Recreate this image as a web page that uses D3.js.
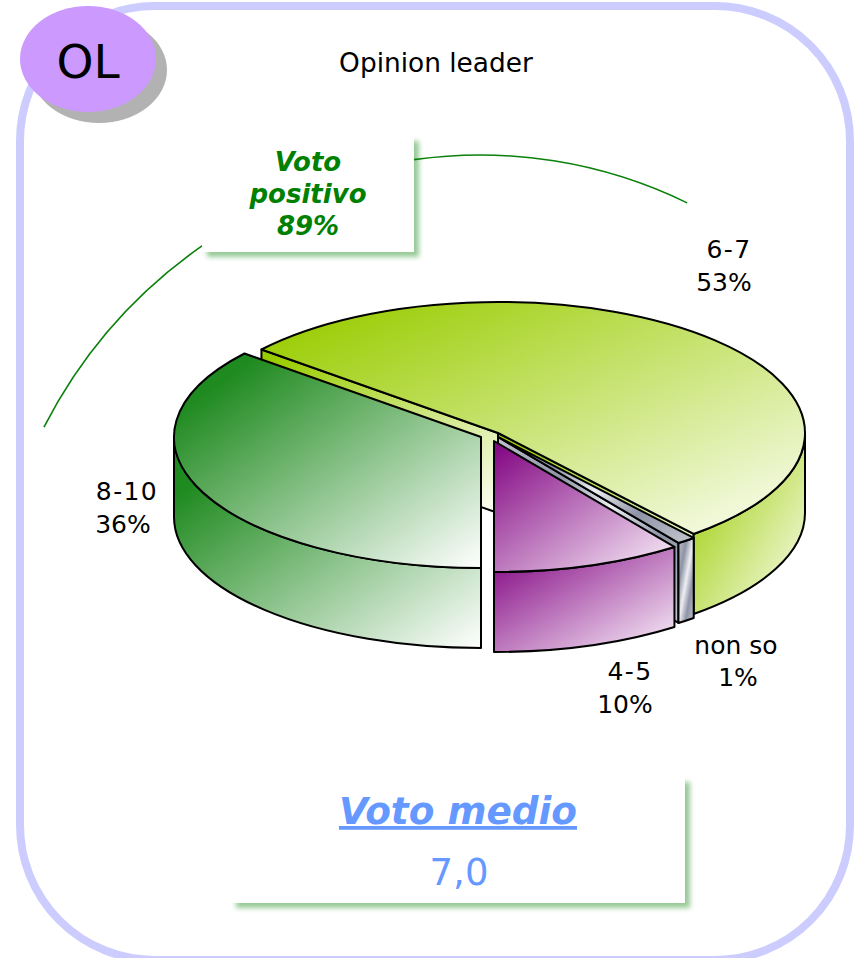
<!DOCTYPE html>
<html>
<head>
<meta charset="utf-8">
<script src="https://cdn.jsdelivr.net/npm/d3@7"></script>
<style>
html,body{margin:0;padding:0;background:#fff;}
svg{display:block;font-family:"DejaVu Sans",sans-serif;}
</style>
</head>
<body>
<div id="chart"></div>
<script>
// ---- data
const categories = ["6-7", "non so", "4-5", "8-10"];
const values = [53, 1, 10, 36];
const badge = "OL";
const title = "Opinion leader";
const positiveLines = ["Voto", "positivo", "89%"];
const meanTitle = "Voto medio";
const meanValue = "7,0";

// ---- layout
const W = 857, H = 958;
const svg = d3.select("#chart").append("svg").attr("width", W).attr("height", H);
const defs = svg.append("defs");
const RX = 307, RY = 131, DEPTH = 80;
const START = -50.4 * Math.PI / 180;
const centers = { "6-7": [498, 433], "non so": [498, 437], "4-5": [494, 441], "8-10": [481, 437] };
const labelLayout = {
  "6-7":    { x: [729, 724], y: [258, 291] },
  "non so": { x: [736, 738], y: [654, 686] },
  "4-5":    { x: [630, 625], y: [680, 713] },
  "8-10":   { x: [127, 123], y: [500, 533] }
};
const ramps = {
  "6-7":    [[0.06, "#99cc00"], [1, "#fdfef6"]],
  "8-10":   [[0.14, "#1f8a1f"], [1, "#ffffff"]],
  "4-5":    [[0, "#800080"], [1, "#fbf3fb"]],
  "non so": [[0, "#c0c3cc"], [.28, "#8e93a6"], [.5, "#eceef1"], [.72, "#8e93a6"], [1, "#c6c8d0"]]
};
function gradient(id, stops) {
  const g = defs.append("linearGradient").attr("id", id)
    .attr("x1", 0).attr("y1", 0).attr("x2", 1).attr("y2", 1);
  stops.forEach(s => g.append("stop").attr("offset", s[0]).attr("stop-color", s[1]));
}
categories.forEach((c, i) => gradient("g" + i, ramps[c]));
const blur = defs.append("filter").attr("id", "soft")
  .attr("x", "-10%").attr("y", "-10%").attr("width", "120%").attr("height", "120%");
blur.append("feGaussianBlur").attr("stdDeviation", 2.4);

// ---- frame
svg.append("rect").attr("x", 20).attr("y", 6).attr("width", 830).attr("height", 954)
  .attr("rx", 135).attr("ry", 135).attr("fill", "#fff").attr("stroke", "#ccccff").attr("stroke-width", 8);

// ---- badge
svg.append("ellipse").attr("cx", 99).attr("cy", 70).attr("rx", 68).attr("ry", 53).attr("fill", "#b2b2b2");
svg.append("ellipse").attr("cx", 88).attr("cy", 59).attr("rx", 68).attr("ry", 53).attr("fill", "#cc99ff");
svg.append("text").attr("x", 88).attr("y", 78).attr("text-anchor", "middle")
  .attr("font-size", 47).attr("fill", "#000").text(badge);
svg.append("text").attr("x", 436).attr("y", 72).attr("text-anchor", "middle")
  .attr("font-size", 26.4).attr("fill", "#000").text(title);

// ---- callout boxes
function box(x, y, w, h) {
  svg.append("rect").attr("x", x + 5).attr("y", y + 5).attr("width", w).attr("height", h)
    .attr("fill", "#97cb97").attr("filter", "url(#soft)");
  svg.append("rect").attr("x", x).attr("y", y).attr("width", w).attr("height", h).attr("fill", "#fff");
}
box(202, 136, 212, 116);
svg.append("g").selectAll("text").data(positiveLines).join("text")
  .attr("x", 308).attr("y", (d, i) => 171 + i * 32).attr("text-anchor", "middle")
  .attr("font-size", 26).attr("font-weight", "bold").attr("font-style", "italic")
  .attr("fill", "#008000").text(d => d);

box(231, 777, 454, 126);
svg.append("text").attr("x", 458).attr("y", 824).attr("text-anchor", "middle")
  .attr("font-size", 37.4).attr("font-weight", "bold").attr("font-style", "italic")
  .attr("text-decoration", "underline").attr("fill", "#6699ff").text(meanTitle);
svg.append("text").attr("x", 459).attr("y", 885).attr("text-anchor", "middle")
  .attr("font-size", 37).attr("fill", "#6699ff").text(meanValue);

// ---- bracket arcs round the positive slices
const bracket = d3.path();
bracket.arc(488.7, 655.5, 500, -2.667, -2.1815);
bracket.moveTo(480 + 472 * Math.cos(-1.711), 627 + 472 * Math.sin(-1.711));
bracket.arc(480, 627, 472, -1.711, -1.1165);
svg.append("path").attr("d", bracket.toString()).attr("fill", "none")
  .attr("stroke", "#0a800a").attr("stroke-width", 1.6);

// ---- pie
const pie = d3.pie().sort(null).value(d => d.value)
  .startAngle(START).endAngle(START + 2 * Math.PI);
const slices = pie(categories.map((c, i) => ({ cat: c, value: values[i], idx: i })));
const px = d3.scaleLinear().domain([-1, 1]).range([-RX, RX]);
const py = d3.scaleLinear().domain([-1, 1]).range([-RY, RY]);
function pt(c, a, dz) { return [c[0] + px(Math.sin(a)), c[1] - py(Math.cos(a)) + (dz || 0)]; }
function wedge(c, a0, a1) {
  const p0 = pt(c, a0), p1 = pt(c, a1);
  return `M${c}L${p0}A${RX},${RY} 0 ${a1 - a0 > Math.PI ? 1 : 0} 1 ${p1}Z`;
}
function radialWall(c, a) {
  const p = pt(c, a), q = pt(c, a, DEPTH);
  return `M${c}L${p}L${q}L${c[0]},${c[1] + DEPTH}Z`;
}
function outerWall(c, a0, a1) {
  const lo = Math.max(a0, Math.PI / 2), hi = Math.min(a1, 3 * Math.PI / 2);
  if (hi <= lo) return null;
  const p0 = pt(c, lo), p1 = pt(c, hi), q0 = pt(c, lo, DEPTH), q1 = pt(c, hi, DEPTH);
  return `M${p0}A${RX},${RY} 0 0 1 ${p1}L${q1}A${RX},${RY} 0 0 0 ${q0}Z`;
}
const pieG = svg.append("g").attr("stroke", "#000").attr("stroke-width", 2).attr("stroke-linejoin", "round");
const drawOrder = ["6-7", "non so", "4-5", "8-10"];
drawOrder.forEach(cat => {
  const s = slices.find(d => d.data.cat === cat);
  const c = centers[cat], fill = `url(#g${s.data.idx})`;
  const g = pieG.append("g");
  const walls = [];
  // radial faces that look toward the viewer
  if (cat === "6-7") walls.push(radialWall(c, s.startAngle));
  if (cat === "6-7" || cat === "non so") walls.push(radialWall(c, s.endAngle));
  const o = outerWall(c, s.startAngle, s.endAngle);
  if (o) walls.push(o);
  g.selectAll("path.wall").data(walls).join("path").attr("class", "wall").attr("d", d => d).attr("fill", fill);
  g.append("path").attr("d", wedge(c, s.startAngle, s.endAngle)).attr("fill", fill);
});

// ---- slice labels
const labelG = svg.append("g").attr("font-size", 25).attr("fill", "#000").attr("text-anchor", "middle");
slices.forEach(s => {
  const l = labelLayout[s.data.cat];
  labelG.append("text").attr("x", l.x[0]).attr("y", l.y[0])
    .attr("letter-spacing", s.data.cat.includes("-") ? 1.4 : 0).text(s.data.cat);
  labelG.append("text").attr("x", l.x[1]).attr("y", l.y[1]).text(s.data.value + "%");
});
</script>
</body>
</html>
